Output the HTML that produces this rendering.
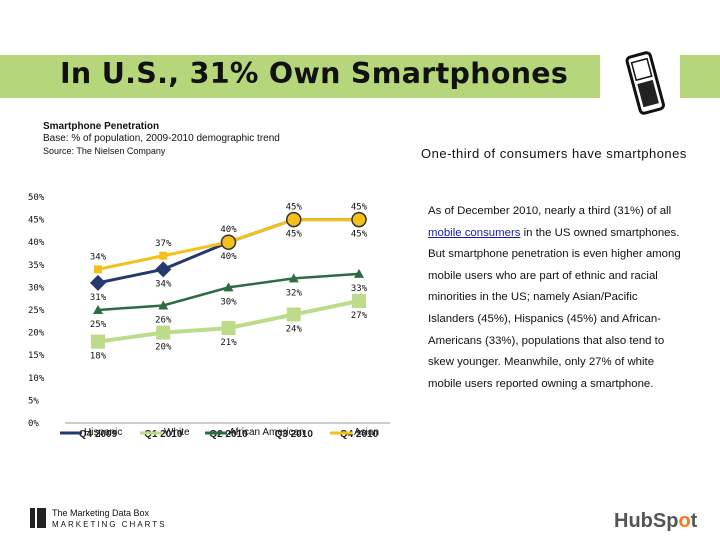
<!DOCTYPE html>
<html><head><meta charset="utf-8"><style>
body{margin:0;width:720px;height:540px;background:#fff;position:relative;overflow:hidden;font-family:"Liberation Sans",sans-serif}
.abs{position:absolute}
</style></head><body>
<div class="abs" style="left:0;top:55px;width:600px;height:43px;background:#b5d67a"></div>
<div class="abs" style="left:680px;top:55px;width:40px;height:43px;background:#b5d67a"></div>
<div class="abs" style="left:60px;top:57px;font:bold 28.5px 'DejaVu Sans',sans-serif;color:#111;letter-spacing:0.3px">In U.S., 31% Own Smartphones</div>
<svg class="abs" style="left:615px;top:42px" width="60" height="90"><g transform="rotate(-15 30 40)"><rect x="18" y="12" width="24" height="58" rx="4" fill="#fff" stroke="#111" stroke-width="3"/><rect x="22" y="18" width="16" height="18" fill="#fff" stroke="#111" stroke-width="1.5"/><rect x="22" y="40" width="16" height="24" fill="#222"/></g></svg>
<div class="abs" style="left:43px;top:121px;font-size:10px;color:#111;line-height:12px"><b>Smartphone Penetration</b><br>Base: % of population, 2009-2010 demographic trend<br><span style="font-size:9px">Source: The Nielsen Company</span></div>
<div class="abs" style="left:421px;top:146px;font-size:13px;color:#111;letter-spacing:0.5px">One-third of consumers have smartphones</div>
<div class="abs" style="left:428px;top:201px;font-size:11.4px;line-height:21.6px;color:#111;width:292px;white-space:nowrap">As of December 2010, nearly a third (31%) of all<br><span style="color:#1a1aa6;text-decoration:underline">mobile consumers</span> in the US owned smartphones.<br>But smartphone penetration is even higher among<br>mobile users who are part of ethnic and racial<br>minorities in the US; namely Asian/Pacific<br>Islanders (45%), Hispanics (45%) and African-<br>Americans (33%), populations that also tend to<br>skew younger. Meanwhile, only 27% of white<br>mobile users reported owning a smartphone.</div>
<svg id="chart" class="abs" style="left:0;top:0" width="420" height="460"></svg>
<div class="abs" style="left:30px;top:508px;font-size:9px;color:#111;line-height:11px"><span style="display:inline-block;width:16px;height:20px;background:linear-gradient(90deg,#222 0 5px,#fff 5px 7px,#222 7px 16px);vertical-align:top;margin-right:6px"></span><span style="display:inline-block">The Marketing Data Box<br><span style="letter-spacing:2px;font-size:8px">MARKETING CHARTS</span></span></div>
<div class="abs" style="left:614px;top:510px;font:bold 20px 'Liberation Sans',sans-serif;color:#555">HubSp<span style="color:#f57722">o</span>t</div>
<script>
const categories=["Q4 2009","Q1 2010","Q2 2010","Q3 2010","Q4 2010"];
const hispanic=[31,34,40,45,45];
const white=[18,20,21,24,27];
const africanAmerican=[25,26,30,32,33];
const asian=[34,37,40,45,45];
const yTicks=[0,5,10,15,20,25,30,35,40,45,50];
const svg=document.getElementById('chart');const NS='http://www.w3.org/2000/svg';
const x=i=>98+i*65.25, y=v=>423-v*4.52;
function el(t,a,p){const e=document.createElementNS(NS,t);for(const k in a)e.setAttribute(k,a[k]);(p||svg).appendChild(e);return e;}
const ax=el('line',{x1:65,x2:390,y1:423,y2:423,stroke:'#999'});


yTicks.forEach(v=>{const t=el('text',{x:28,y:y(v)+3,'font-size':9,fill:'#111','font-family':'DejaVu Sans Mono,monospace'});t.textContent=v+'%';

});
categories.forEach((c,i)=>{const t=el('text',{x:x(i),y:437,'font-size':10,'font-weight':'bold','text-anchor':'middle',fill:'#222'});t.textContent=c;

});
function series(name,vals,color,w,marker,above){
 const g=el('g',{});
 
 
 el('polyline',{points:vals.map((v,i)=>x(i)+','+y(v)).join(' '),fill:'none',stroke:color,'stroke-width':w},g);
 vals.forEach((v,i)=>{const cx=x(i),cy=y(v);let m;
  if(marker==='diamond')m=el('polygon',{points:`${cx},${cy-8} ${cx+8},${cy} ${cx},${cy+8} ${cx-8},${cy}`,fill:color},g);
  else if(marker==='square')m=el('rect',{x:cx-(w>3?7:4),y:cy-(w>3?7:4),width:w>3?14:8,height:w>3?14:8,fill:color},g);
  else if(marker==='tri')m=el('polygon',{points:`${cx},${cy-5} ${cx+5},${cy+4} ${cx-5},${cy+4}`,fill:color},g);
  else if(i<2)m=el('rect',{x:cx-4,y:cy-4,width:8,height:8,fill:color},g);
  else m=el('circle',{cx:cx,cy:cy,r:7,fill:color,stroke:'#333','stroke-width':1.5},g);
  
  
  const t=el('text',{x:cx,y:above?cy-10:cy+17,'font-size':9,'text-anchor':'middle',fill:'#111','font-family':'DejaVu Sans Mono,monospace'},g);t.textContent=v+'%';
  
  });
}
series('white',white,'#bcdc8a',4,'square',false);
series('african-american',africanAmerican,'#2e6b44',2.5,'tri',false);
series('hispanic',hispanic,'#243a6e',3,'diamond',false);
series('asian',asian,'#f5c01a',3,'circle',true);
const leg=[['Hispanic','#243a6e',70],['White','#bcdc8a',150],['African American','#2e6b44',215],['Asian','#f5c01a',340]];
leg.forEach(l=>{const g=el('g',{});
 
 
 el('line',{x1:l[2]-10,x2:l[2]+12,y1:433,y2:433,stroke:l[1],'stroke-width':3},g);
 const t=el('text',{x:l[2]+14,y:435,'font-size':10,fill:'#111'},g);t.textContent=l[0];});
</script>
</body></html>
